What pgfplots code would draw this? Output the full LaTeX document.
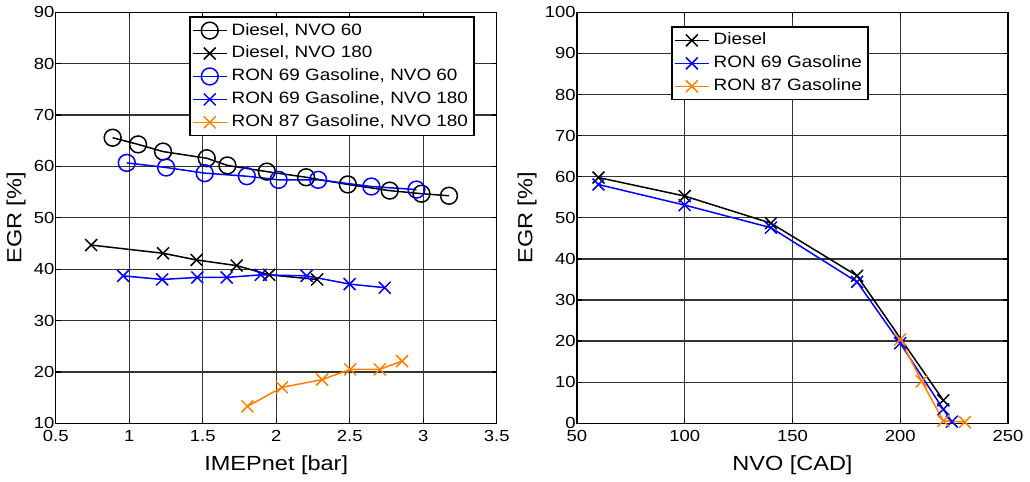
\documentclass[border=0pt]{standalone}
\usepackage{fontspec}
\setmainfont{Liberation Sans}[FakeStretch=1.15]
\usepackage{pgfplots}
\pgfplotsset{compat=1.18}
\definecolor{matorange}{rgb}{1,0.5,0}

\pgfplotsset{
  egr/.style={
    scale only axis,
    height=205pt,
    grid=major,
    grid style={black!80, line width=0.65pt},
    axis line style={black, line width=0.65pt},
    tick style={black, line width=0.65pt},
    major tick length=2.5pt,
    tick align=inside,
    /pgf/number format/assume math mode=true,
    ticklabel style={font=\fontsize{8}{9}\selectfont},
    yticklabel style={inner xsep=0.5pt},
    label style={font=\fontsize{10.2}{12}\selectfont},
    ylabel shift=0pt,
    legend style={font=\fontsize{8.2}{9}\selectfont, draw=black, line width=0.65pt,
      fill=white, inner sep=1pt, row sep=0pt},
    legend cell align=left,
  },
  circ/.style={line width=0.75pt, mark=o, mark size=4.2pt, mark options={solid}},
  cross/.style={line width=0.75pt, mark=x, mark size=4.2pt, mark options={solid}},
}

\begin{document}
\begin{tikzpicture}
% left: EGR vs load
\begin{axis}[
  egr,
  width=220pt,
  xmin=0.5, xmax=3.5, ymin=10, ymax=90,
  xtick={0.5,1,1.5,2,2.5,3,3.5},
  ytick={10,20,...,90},
  xlabel={IMEPnet [bar]},
  ylabel={EGR [\%]},
  legend style={at={(rel axis cs:0.95,0.99)}, anchor=north east},
]
\addplot[black, circ] coordinates {
  (0.887,65.6) (1.06,64.3) (1.23,62.9) (1.527,61.6) (1.668,60.2) (1.936,59.0)
  (2.203,57.9) (2.487,56.5) (2.772,55.3) (2.988,54.7) (3.175,54.3)
};
\addlegendentry{Diesel, NVO 60}
\addplot[black, cross] coordinates {
  (0.741,44.7) (1.23,43.1) (1.458,41.8) (1.731,40.7) (1.952,38.9) (2.278,38.0)
};
\addlegendentry{Diesel, NVO 180}
\addplot[blue, circ] coordinates {
  (0.983,60.7) (1.251,59.8) (1.513,58.7) (1.80,58.1) (2.016,57.4) (2.285,57.4)
  (2.647,56.1) (2.954,55.5)
};
\addlegendentry{RON 69 Gasoline, NVO 60}
\addplot[blue, cross] coordinates {
  (0.958,38.7) (1.224,38.0) (1.463,38.4) (1.663,38.4) (1.895,38.9) (2.207,38.7)
  (2.499,37.1) (2.738,36.4)
};
\addlegendentry{RON 69 Gasoline, NVO 180}
\addplot[matorange, cross] coordinates {
  (1.804,13.3) (2.039,17.0) (2.312,18.5) (2.503,20.5) (2.704,20.5) (2.856,22.1)
};
\addlegendentry{RON 87 Gasoline, NVO 180}
\end{axis}

% right: EGR vs NVO
\begin{axis}[
  egr,
  xshift=260pt,
  width=215pt,
  xmin=50, xmax=250, ymin=0, ymax=100,
  xtick={50,100,...,250},
  ytick={0,10,...,100},
  xlabel={NVO [CAD]},
  ylabel={EGR [\%]},
  legend style={at={(rel axis cs:0.219,0.966)}, anchor=north west},
]
\addplot[black, cross] coordinates {
  (60,59.8) (100,55.3) (140,48.7) (180,35.9) (220,5.6)
};
\addlegendentry{Diesel}
\addplot[blue, cross] coordinates {
  (60,58.1) (100,53.1) (140,47.6) (180,34.4) (200,19.5) (220,3.4) (224,0.4)
};
\addlegendentry{RON 69 Gasoline}
\addplot[matorange, cross] coordinates {
  (200,20.4) (210,10.2) (220,0.6) (230,0.3)
};
\addlegendentry{RON 87 Gasoline}
\end{axis}
\end{tikzpicture}
\end{document}
